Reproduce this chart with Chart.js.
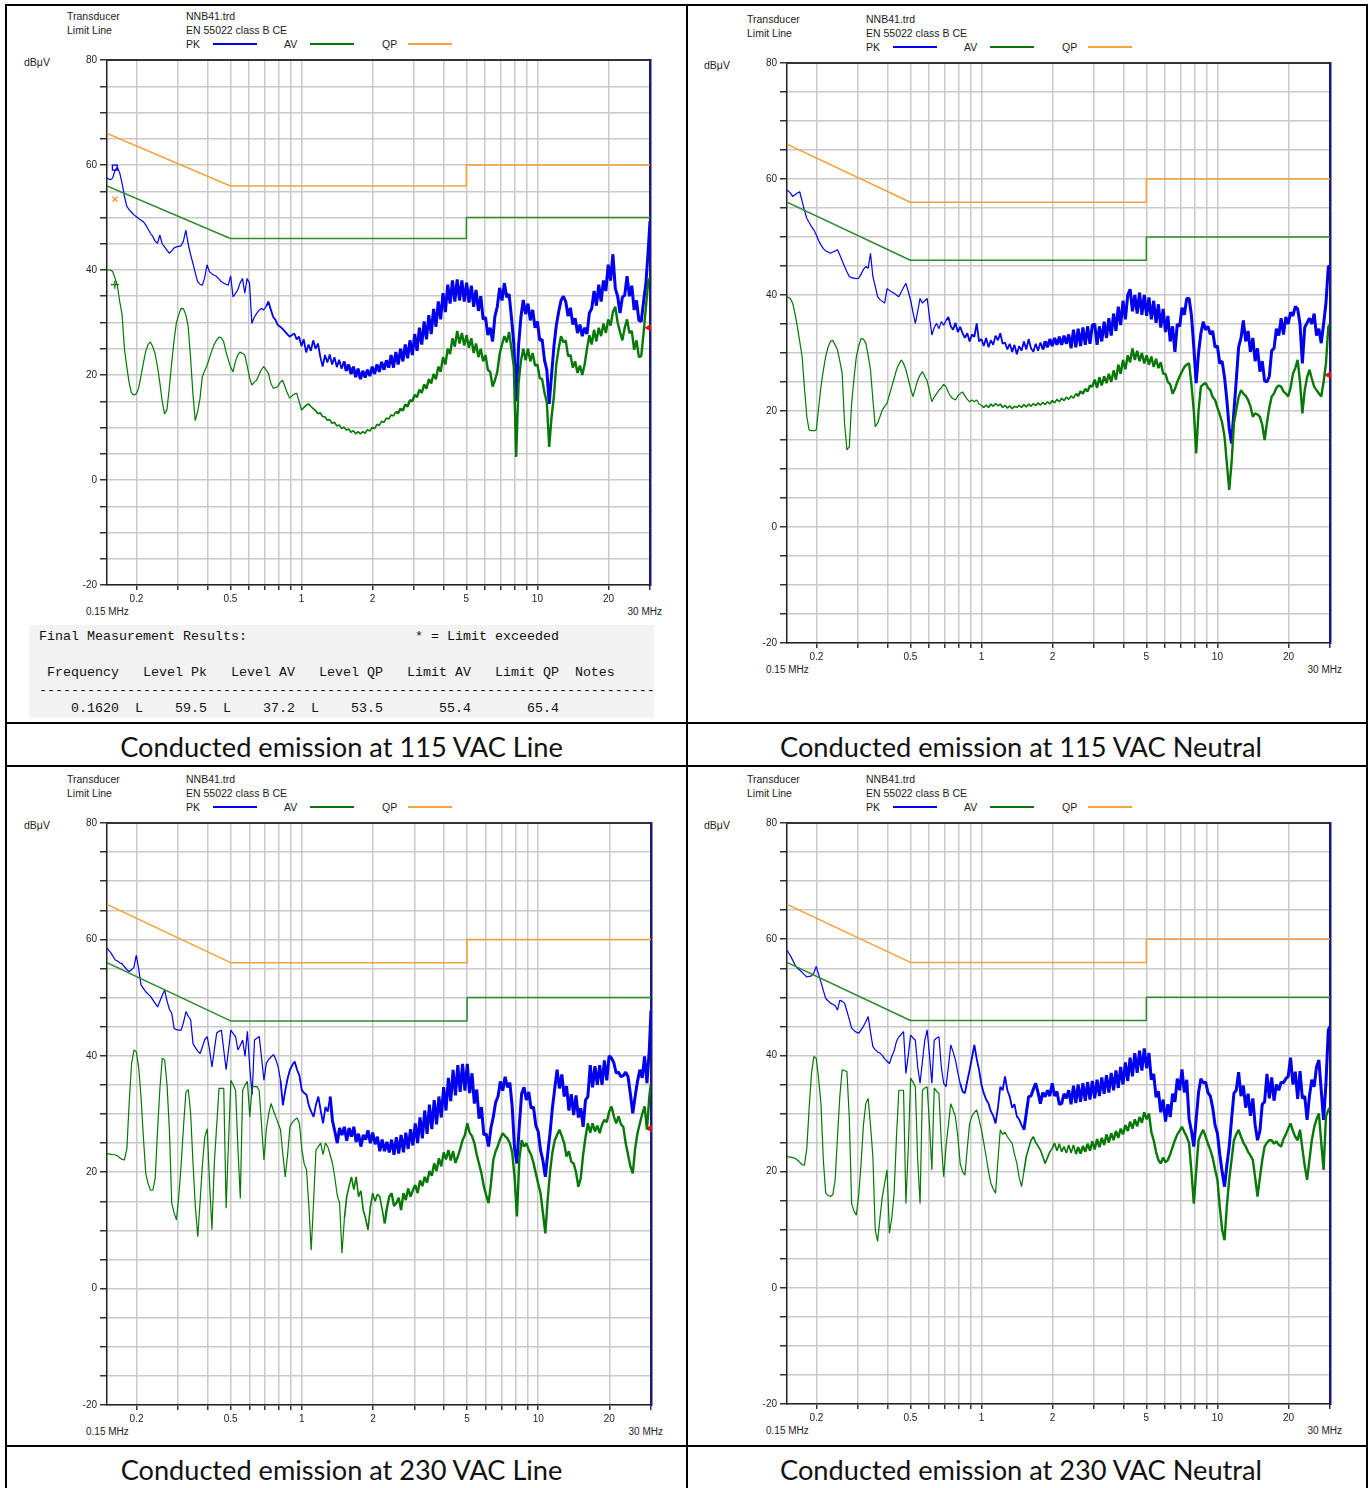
<!DOCTYPE html>
<html>
<head>
<meta charset="utf-8">
<script src="https://cdn.jsdelivr.net/npm/chart.js@4.4.0/dist/chart.umd.min.js"></script>
<style>
  html, body { margin: 0; padding: 0; background: #fff; }
  #page { position: relative; width: 1370px; height: 1488px; overflow: hidden;
          font-family: "Liberation Sans", Arial, sans-serif; color: #222; }
  .ln { position: absolute; background: #000; }
  .t { position: absolute; font-size: 10.5px; line-height: 12px; white-space: nowrap; }
  .lg { position: absolute; height: 2px; }
  canvas { position: absolute; }
  .cap { position: absolute; font-family: Lato, "Open Sans", sans-serif; color: #111;
         white-space: nowrap; line-height: 1; }
  .cap i { display: inline-block; width: 0; height: 0; vertical-align: baseline; }
  #results { position: absolute; left: 29px; top: 625px; width: 625px; height: 93px; background: #f3f3f3; }
  #results pre { margin: 0; position: absolute; left: 10px; top: 3px;
                 font-family: "Liberation Mono", "DejaVu Sans Mono", monospace;
                 font-size: 13.33px; line-height: 18px; color: #111; }
</style>
</head>
<body>
<div id="page">
  <!-- table frame -->
  <div class="ln" style="left:5px;top:4px;width:1363px;height:2px"></div>
  <div class="ln" style="left:5px;top:4px;width:2px;height:1484px"></div>
  <div class="ln" style="left:686px;top:4px;width:2px;height:1484px"></div>
  <div class="ln" style="left:1366px;top:4px;width:2px;height:1484px"></div>
  <div class="ln" style="left:5px;top:722px;width:1363px;height:2px"></div>
  <div class="ln" style="left:5px;top:765px;width:1363px;height:2px"></div>
  <div class="ln" style="left:5px;top:1445px;width:1363px;height:2px"></div>

  <div id="results"><pre>Final Measurement Results:                     * = Limit exceeded

 Frequency   Level Pk   Level AV   Level QP   Limit AV   Limit QP  Notes
-----------------------------------------------------------------------------
    0.1620  L    59.5  L    37.2  L    53.5       55.4       65.4</pre></div>

  <div class="cap" data-cx="341.5" data-w="443" data-base="757">Conducted emission at 115 VAC Line<i></i></div>
  <div class="cap" data-cx="1021" data-w="482" data-base="757">Conducted emission at 115 VAC Neutral<i></i></div>
  <div class="cap" data-cx="341.5" data-w="442" data-base="1480">Conducted emission at 230 VAC Line<i></i></div>
  <div class="cap" data-cx="1021" data-w="482" data-base="1480">Conducted emission at 230 VAC Neutral<i></i></div>
</div>

<script>
// sweep frequencies, MHz
const freqMHz = [
  0.150,0.1549,0.1585,0.1622,0.1660,0.1698,0.1738,0.1778,0.1820,0.1862,
  0.1905,0.1950,0.1995,0.2042,0.2089,0.2138,0.2188,0.2239,0.2291,0.2344,
  0.2399,0.2455,0.2512,0.2570,0.2630,0.2692,0.2754,0.2818,0.2884,0.2951,
  0.3020,0.3090,0.3162,0.3236,0.3311,0.3388,0.3467,0.3548,0.3631,0.3715,
  0.3802,0.3890,0.3981,0.4074,0.4169,0.4266,0.4365,0.4467,0.4571,0.4677,
  0.4786,0.4898,0.5012,0.5129,0.5248,0.5370,0.5495,0.5623,0.5754,0.5888,
  0.6026,0.6166,0.6310,0.6457,0.6607,0.6761,0.6918,0.7079,0.7244,0.7413,
  0.7586,0.7762,0.7943,0.8128,0.8318,0.8511,0.8710,0.8913,0.9120,0.9333,
  0.9550,0.9772,1.000,1.023,1.047,1.072,1.096,1.122,1.148,1.175,
  1.202,1.230,1.259,1.288,1.318,1.349,1.380,1.413,1.445,1.479,
  1.514,1.549,1.585,1.622,1.660,1.698,1.738,1.778,1.820,1.862,
  1.905,1.950,1.995,2.042,2.089,2.138,2.188,2.239,2.291,2.344,
  2.399,2.455,2.512,2.570,2.630,2.692,2.754,2.818,2.884,2.951,
  3.020,3.090,3.162,3.236,3.311,3.388,3.467,3.548,3.631,3.715,
  3.802,3.890,3.981,4.074,4.169,4.266,4.365,4.467,4.571,4.677,
  4.786,4.898,5.012,5.129,5.248,5.370,5.495,5.623,5.754,5.888,
  6.026,6.166,6.310,6.457,6.607,6.761,6.918,7.079,7.244,7.413,
  7.586,7.762,7.943,8.128,8.318,8.511,8.710,8.913,9.120,9.333,
  9.550,9.772,10.00,10.23,10.47,10.72,10.96,11.22,11.48,11.75,
  12.02,12.30,12.59,12.88,13.18,13.49,13.80,14.13,14.45,14.79,
  15.14,15.49,15.85,16.22,16.60,16.98,17.38,17.78,18.20,18.62,
  19.05,19.50,19.95,20.42,20.89,21.38,21.88,22.39,22.91,23.44,
  23.99,24.55,25.12,25.70,26.30,26.92,27.54,28.18,28.84,29.51,
  30.0
];

// EN 55022 class B limit lines
const qpLimitFreq  = [0.15, 0.5, 5, 5, 30];
const qpLimitLevel = [66, 56, 56, 60, 60];
const avLimitFreq  = [0.15, 0.5, 5, 5, 30];
const avLimitLevel = [56, 46, 46, 50, 50];

// 115 VAC Line
const c1Pk = [
  57.5,57.2,57.5,59.0,59.6,58.5,56.5,54.0,52.1,51.5,
  51.0,50.5,50.2,49.8,49.5,49.2,48.6,47.8,47.0,46.4,
  45.5,45.1,46.7,45.0,44.4,43.8,43.2,43.6,44.2,44.4,
  44.5,44.6,45.5,47.6,45.0,43.0,41.3,39.5,37.8,37.3,
  37.1,38.5,41.0,39.7,39.3,39.0,38.8,38.3,37.8,37.5,
  37.3,37.1,38.9,34.9,35.5,36.2,37.5,38.4,35.6,38.4,
  37.5,29.8,31.0,31.7,32.3,32.7,32.4,33.0,34.0,32.5,
  31.1,30.5,29.5,29.2,28.8,28.3,27.8,27.3,27.6,27.9,
  26.8,27.3,25.5,26.8,24.3,25.8,24.6,26.6,25.0,26.0,
  23.5,21.6,23.8,22.4,23.9,22.0,23.4,21.5,22.9,21.2,
  22.6,20.8,22.0,20.2,21.6,19.6,21.2,19.2,20.8,19.5,
  21.0,19.8,21.6,20.2,22.0,20.6,22.5,21.0,22.8,21.4,
  23.8,21.4,24.4,22.0,25.0,22.6,25.8,23.2,26.6,23.8,
  27.8,24.6,29.0,25.8,30.2,26.8,31.4,27.8,32.6,29.2,
  34.0,30.6,35.6,32.0,37.2,33.6,38.0,34.0,38.2,34.2,
  38.0,34.0,37.6,33.8,37.0,33.0,36.2,32.2,35.0,30.6,
  31.0,27.6,29.0,26.4,31.2,33.0,36.6,34.2,37.5,34.8,
  35.4,31.0,26.0,15.0,25.5,31.0,34.3,31.6,33.6,30.4,
  32.4,29.0,30.2,26.6,26.8,22.8,21.0,14.5,20.0,25.5,
  29.4,32.0,34.2,35.0,34.0,31.2,32.8,29.6,30.8,28.0,
  29.6,27.4,29.0,27.8,31.8,32.6,36.0,33.2,37.2,34.0,
  38.0,36.0,41.0,38.0,43.0,36.5,35.0,31.8,34.8,35.2,
  38.8,35.0,37.0,32.4,34.2,30.4,30.2,34.0,37.6,44.0,
  49.3
];
const c1Av = [
  40.0,40.0,39.7,38.5,37.0,34.0,31.5,25.0,21.5,18.5,
  16.6,16.2,16.4,17.5,19.8,22.2,24.5,25.8,26.3,25.4,
  24.0,21.6,18.5,15.0,12.6,13.4,17.5,22.2,26.5,29.9,
  31.5,32.7,32.6,31.5,29.3,23.5,16.5,11.3,13.0,15.5,
  19.7,20.8,21.8,23.2,24.6,25.8,26.6,27.2,27.1,26.4,
  24.5,22.9,21.5,20.6,22.5,23.8,24.4,24.1,23.8,21.8,
  19.5,18.1,18.6,19.0,20.0,21.0,21.6,21.0,20.3,18.5,
  17.5,17.6,17.8,18.6,19.0,17.8,16.6,15.6,16.0,16.4,
  16.5,15.0,13.3,13.8,14.2,14.5,14.0,13.6,13.2,12.6,
  12.8,12.1,12.0,11.4,11.5,10.8,11.0,10.3,10.5,9.8,
  10.1,9.5,9.7,9.1,9.4,8.8,9.2,8.8,9.2,8.9,
  9.6,9.3,10.0,9.8,10.6,10.4,11.2,11.0,11.8,11.6,
  12.4,12.2,13.0,12.7,13.6,13.2,14.4,14.0,15.2,15.0,
  16.2,15.8,17.2,16.6,18.2,17.4,19.2,18.4,20.2,19.2,
  21.6,20.6,23.4,22.0,25.0,24.0,27.0,25.4,28.4,26.0,
  28.0,25.6,27.6,25.2,27.0,24.2,26.0,23.4,25.0,22.6,
  23.8,21.0,20.6,17.8,19.0,20.6,24.0,25.8,27.4,26.2,
  28.2,25.0,21.6,4.4,18.4,22.6,25.0,22.8,25.0,22.6,
  24.2,21.8,22.0,19.4,19.2,16.6,14.8,6.3,12.0,16.0,
  22.0,25.0,27.4,26.2,26.6,23.6,23.8,21.4,22.6,20.4,
  21.8,20.0,22.0,25.0,27.6,25.8,28.6,26.4,29.0,27.4,
  29.8,28.0,30.6,29.4,32.0,33.0,30.0,28.2,26.6,29.0,
  30.6,28.0,28.4,24.8,26.6,23.4,23.6,28.0,33.0,38.0,
  38.5
];

// 115 VAC Neutral
const c2Pk = [
  58.1,57.6,57.0,57.3,57.6,57.8,56.2,54.6,53.2,52.5,
  51.8,51.2,50.4,49.4,48.6,48.0,47.6,47.4,47.2,47.4,
  47.6,47.8,46.9,45.9,44.9,44.0,43.2,43.0,42.9,42.8,
  42.9,43.6,44.4,44.9,44.6,47.2,43.2,41.5,39.7,39.2,
  38.9,38.6,41.1,40.8,40.5,40.3,40.0,39.7,40.5,41.3,
  42.0,40.6,39.1,37.0,35.1,37.2,39.4,38.6,39.0,39.4,
  36.2,33.1,34.4,35.1,34.2,35.4,34.8,35.6,36.2,34.6,
  34.0,35.2,33.6,34.5,33.4,32.6,33.4,32.0,33.2,32.8,
  35.1,32.0,32.4,31.2,32.6,31.0,32.2,31.4,33.0,32.2,
  33.4,31.6,31.8,30.6,31.6,30.2,31.4,29.8,31.2,30.4,
  32.0,30.6,32.4,30.8,30.2,31.6,30.4,31.8,30.6,32.0,
  31.0,32.4,31.2,32.6,31.4,32.8,31.4,33.0,31.6,33.2,
  30.8,34.0,31.0,34.2,31.2,34.4,31.4,34.6,31.6,34.8,
  35.0,31.4,34.6,32.0,35.4,32.6,36.0,33.0,36.8,33.8,
  38.0,34.8,39.0,35.8,40.0,41.0,37.2,40.0,36.8,40.4,
  36.6,40.0,36.4,39.6,35.8,39.0,35.2,38.4,34.4,37.6,
  33.6,36.4,32.0,34.6,30.2,35.0,34.6,37.8,36.6,39.4,
  39.4,36.5,31.0,24.8,30.0,33.4,35.4,34.0,34.6,33.2,
  33.8,31.0,31.2,28.2,28.6,25.8,22.0,17.0,14.4,20.0,
  25.3,31.0,32.6,35.6,32.0,33.8,30.2,32.6,28.6,30.8,
  26.8,28.6,25.2,25.0,26.0,30.4,30.8,34.2,33.0,36.0,
  33.2,36.2,35.0,37.0,36.4,38.0,37.6,35.0,28.2,34.4,
  35.2,36.0,35.0,36.8,33.0,34.2,31.7,35.0,38.6,44.9,
  45.0
];
const c2Av = [
  39.7,39.4,38.6,36.8,34.5,32.0,29.4,24.0,19.0,16.7,
  16.6,16.6,16.7,20.5,24.2,27.0,29.4,31.0,32.0,32.2,
  31.4,30.5,28.6,26.5,17.9,13.3,13.8,21.3,25.6,29.4,
  31.2,32.5,32.4,31.7,29.6,27.1,22.0,17.3,17.9,19.0,
  20.2,20.8,21.3,22.8,24.2,25.6,27.1,28.0,28.8,28.2,
  27.1,25.5,23.8,22.5,23.9,25.3,26.2,26.8,26.0,25.2,
  23.4,21.6,22.4,23.0,23.6,24.0,24.6,24.2,23.2,22.5,
  22.1,21.9,22.6,23.0,23.3,22.6,22.0,21.6,21.9,21.6,
  21.9,21.2,21.0,20.6,21.0,20.6,21.2,20.8,21.3,20.9,
  21.2,20.6,21.0,20.5,20.9,20.4,20.8,20.6,21.0,20.6,
  21.1,20.7,21.2,20.8,21.3,20.9,21.4,21.0,21.5,21.1,
  21.6,21.2,21.8,21.4,22.0,21.6,22.2,21.8,22.4,22.0,
  22.6,22.2,23.0,22.6,23.4,23.0,23.8,23.4,24.4,24.2,
  25.4,24.0,25.8,24.4,26.0,24.8,26.4,25.0,27.0,25.4,
  28.0,26.4,28.8,27.2,29.6,28.4,30.8,28.8,30.4,28.6,
  30.0,28.2,29.6,28.0,29.4,27.6,29.0,27.4,28.4,26.4,
  26.4,25.0,24.6,23.0,23.8,25.0,26.0,26.8,27.6,28.0,
  28.2,24.6,20.0,12.7,20.0,24.2,24.6,24.8,24.0,23.6,
  22.4,21.9,20.6,19.4,18.0,15.6,11.0,6.4,11.0,17.9,
  20.2,22.4,23.6,23.0,22.6,21.9,20.8,19.0,19.6,19.4,
  19.0,17.6,15.0,18.0,20.6,22.5,23.0,24.0,24.4,24.2,
  23.4,23.0,22.5,24.0,26.4,27.4,28.8,25.0,19.6,23.6,
  25.8,27.1,25.6,24.2,23.6,23.0,22.5,25.0,28.2,34.5,
  35.0
];

// 230 VAC Line
const c3Pk = [
  58.5,57.8,57.2,56.5,56.3,56.0,55.8,55.3,54.8,54.5,
  54.8,55.2,57.3,55.0,52.2,51.6,51.0,50.6,50.2,49.6,
  49.0,48.4,49.4,50.4,51.3,49.4,48.0,47.3,44.7,44.5,
  44.4,44.4,45.8,47.6,46.8,46.2,42.1,41.4,40.8,40.4,
  41.6,42.8,43.3,41.0,38.1,41.0,43.9,44.2,44.4,41.0,
  37.6,41.0,44.4,43.8,43.3,41.0,41.8,42.7,39.9,44.2,
  38.0,33.3,42.7,43.0,43.3,39.6,35.8,38.7,39.4,39.8,
  40.2,39.4,38.1,35.8,31.5,34.0,36.1,37.6,38.4,39.0,
  37.6,36.6,34.1,33.6,33.3,31.4,30.4,29.5,31.6,33.0,
  30.6,28.4,31.2,30.4,33.0,28.8,27.0,25.0,27.6,26.4,
  27.8,25.4,27.6,26.1,27.8,25.2,26.6,24.4,26.4,25.6,
  27.2,25.0,26.8,24.8,26.1,23.6,25.6,23.6,25.2,23.4,
  25.6,23.0,26.0,23.2,26.4,23.4,26.8,24.0,27.4,24.6,
  28.4,25.0,29.4,25.8,30.6,26.6,31.6,27.4,32.4,28.2,
  33.0,29.4,34.6,30.6,36.2,32.2,37.6,33.2,38.4,33.8,
  38.6,34.0,38.6,33.6,37.0,31.8,34.2,29.2,31.2,26.4,
  26.6,24.4,27.6,29.5,32.0,33.0,35.6,34.0,36.4,34.6,
  35.4,31.3,24.0,21.5,28.0,33.5,34.6,32.4,33.8,31.0,
  31.2,28.0,27.0,23.8,22.0,19.2,23.0,26.7,31.0,34.4,
  37.6,34.4,36.8,33.0,34.8,30.6,33.4,29.8,33.2,29.4,
  31.0,27.8,32.4,33.0,38.4,34.6,38.2,35.0,38.4,35.0,
  39.2,35.8,40.0,39.6,38.8,37.0,37.2,36.4,36.6,37.2,
  36.4,33.4,30.1,33.0,35.6,37.6,36.2,39.9,35.3,41.0,
  47.8
];
const c3Av = [
  23.2,23.1,23.0,23.0,22.8,22.5,22.2,22.1,24.0,32.0,
  38.6,41.0,40.7,38.0,33.0,26.0,19.8,18.0,16.9,16.9,
  19.0,27.3,34.5,39.6,39.3,35.0,27.3,14.7,13.0,11.8,
  16.0,21.5,28.0,33.8,34.2,30.0,21.5,14.0,8.9,15.0,
  21.5,26.1,27.5,18.0,10.1,21.5,28.0,34.4,34.4,34.4,
  13.8,25.0,35.8,35.0,34.1,24.0,15.5,34.1,35.0,35.6,
  29.5,34.7,34.7,34.7,34.0,28.0,22.1,27.3,30.0,31.8,
  30.6,29.5,28.4,27.3,23.0,19.2,23.0,27.8,28.6,29.0,
  29.3,28.4,24.0,21.5,20.4,14.0,6.6,15.0,23.8,24.4,
  25.0,23.0,25.0,24.4,23.0,21.5,19.0,16.0,14.7,6.1,
  12.0,15.8,17.6,19.2,17.0,19.2,15.8,16.8,13.5,12.0,
  10.1,14.0,16.4,15.0,16.2,15.8,13.6,11.2,13.8,15.8,
  16.4,14.2,14.7,15.6,13.5,16.4,15.2,17.2,15.8,16.9,
  17.8,16.4,18.6,17.6,19.2,18.2,20.2,19.4,21.5,20.2,
  22.4,21.0,23.4,22.2,23.8,22.0,23.6,21.6,22.7,24.0,
  25.5,26.4,28.4,26.8,26.2,25.0,23.0,21.4,19.8,17.6,
  16.0,14.7,18.0,22.1,23.6,24.6,25.8,26.7,26.2,25.8,
  25.0,23.4,19.2,12.4,22.1,25.5,24.4,25.0,23.8,23.0,
  21.6,19.8,18.0,16.4,13.0,9.5,15.2,20.0,23.4,25.5,
  26.4,27.3,26.2,25.0,22.7,23.6,21.8,21.5,20.0,17.5,
  19.0,23.0,26.0,28.4,26.8,28.4,27.0,28.0,26.7,28.2,
  29.0,28.6,30.4,31.3,29.6,28.4,29.6,28.2,27.8,25.0,
  23.0,21.0,19.8,24.0,26.7,28.4,30.0,31.3,27.3,33.0,
  35.3
];

// 230 VAC Neutral
const c4Pk = [
  58.1,57.2,56.4,55.6,55.0,54.7,54.3,53.9,53.5,53.6,
  53.7,54.2,55.3,54.0,52.6,51.2,49.8,49.4,49.0,48.8,
  48.6,47.8,49.5,49.3,49.0,47.6,46.2,44.7,44.3,44.0,
  43.8,44.4,45.0,45.8,46.7,44.0,41.5,41.0,40.6,40.4,
  40.0,39.4,39.0,38.6,39.8,40.8,42.4,43.2,43.6,44.1,
  36.9,40.0,43.5,43.0,42.6,38.0,35.2,39.0,42.6,44.4,
  40.0,35.2,42.6,43.0,43.2,38.0,35.2,34.6,38.0,41.8,
  40.6,39.2,37.0,35.2,33.8,33.5,35.6,37.5,39.6,41.8,
  39.4,37.5,35.0,33.5,32.4,31.7,30.4,29.6,28.3,31.0,
  34.6,34.0,36.4,34.0,32.9,31.0,31.6,29.5,29.0,28.0,
  27.2,30.0,32.9,33.0,34.2,35.2,33.6,31.7,33.6,32.9,
  34.0,33.0,35.2,33.0,33.8,31.6,31.7,33.4,32.6,34.0,
  31.6,34.8,31.8,35.0,32.0,35.2,32.2,35.4,32.4,35.6,
  32.6,35.8,33.0,36.2,33.4,36.6,33.6,37.0,34.0,37.4,
  34.4,38.0,35.0,38.8,35.6,39.6,36.4,40.4,37.0,40.8,
  37.4,41.2,37.8,40.4,35.8,36.8,32.8,33.8,30.2,32.4,
  28.6,31.6,29.4,33.4,32.0,36.0,34.0,37.6,33.6,35.8,
  29.0,27.0,24.3,29.0,33.6,36.0,35.3,35.4,33.6,33.0,
  31.0,28.0,26.6,23.0,20.0,17.4,21.0,24.3,29.0,33.5,
  34.0,37.1,33.0,34.8,31.0,33.4,29.6,32.6,28.0,25.4,
  27.0,31.6,32.0,36.8,32.6,36.2,32.2,35.0,34.0,35.4,
  35.3,36.0,36.4,39.6,35.0,37.2,32.5,37.3,32.6,33.0,
  28.9,33.0,35.8,34.6,38.0,39.2,34.0,28.9,35.2,44.4,
  45.0
];
const c4Av = [
  22.6,22.5,22.4,22.3,22.0,21.6,21.2,21.1,24.0,31.0,
  36.9,39.8,39.5,36.0,31.7,22.0,16.3,15.9,15.7,16.0,
  18.5,26.0,33.0,37.5,37.4,37.2,29.4,14.5,13.2,12.5,
  16.0,21.4,28.0,31.7,32.6,28.0,22.6,10.0,8.0,12.0,
  15.7,18.0,20.3,9.4,12.0,16.3,26.0,34.0,34.0,34.0,
  14.5,24.0,36.1,35.4,34.6,22.0,14.5,34.0,34.4,34.6,
  28.0,20.3,34.4,33.8,33.5,25.0,19.1,24.3,28.0,31.7,
  30.6,29.4,26.0,21.4,20.0,19.4,24.0,28.3,29.6,30.2,
  30.6,29.0,27.2,25.0,22.6,20.0,18.0,17.0,16.3,22.0,
  27.2,26.4,26.8,26.0,25.4,24.9,23.0,21.4,19.0,17.4,
  20.0,22.6,24.0,25.4,26.0,25.0,24.4,23.7,22.6,21.4,
  22.4,23.4,24.0,24.9,23.6,24.8,23.4,24.3,23.2,24.6,
  23.2,24.6,23.0,24.2,23.1,24.4,23.4,24.8,23.6,25.2,
  23.8,25.6,24.2,25.8,24.6,26.4,25.0,26.6,25.4,27.0,
  25.8,27.4,26.4,28.0,27.0,28.6,27.4,29.0,27.8,29.4,
  28.4,30.2,29.0,30.0,26.8,25.4,23.4,22.0,21.4,22.4,
  21.6,22.0,23.0,24.2,25.4,26.4,27.0,27.7,26.8,26.0,
  24.9,20.0,14.5,20.0,25.4,26.4,27.2,26.0,24.8,23.7,
  22.4,20.4,18.6,14.0,10.0,8.2,14.0,18.6,22.0,25.4,
  26.4,27.2,26.0,25.0,24.3,23.4,22.8,22.0,19.0,15.7,
  19.0,22.0,24.3,25.0,25.4,25.4,24.8,25.2,24.6,24.3,
  25.6,26.4,27.4,28.3,27.0,26.0,25.4,27.2,24.0,21.0,
  18.6,22.0,25.4,27.6,29.0,30.0,25.0,20.3,29.5,30.6,
  31.0
];

// final measurement markers (115 VAC Line) and limit-exceeded arrows
const finalFreq = [0.162];
const finalPk = [59.5];
const finalQp = [53.5];
const finalAv = [37.2];
const edgeMarkFreq = [29.6];
const edgeMarkLevel = [29.0, 26.2, 27.5, null];

// axis ticks
const xTickValues = [0.2,0.3,0.4,0.5,0.6,0.7,0.8,0.9,1,2,3,4,5,6,7,8,9,10,20,30];
const xTickLabels = ['0.2','','','0.5','','','','','1','2','','','5','','','','','10','20',''];
const yTickValues = [-20,-15,-10,-5,0,5,10,15,20,25,30,35,40,45,50,55,60,65,70,75,80];
const yTickLabels = ['-20','','','','0','','','','20','','','','40','','','','60','','','','80'];

const C_PK = '#0000ee', C_AV = '#067806', C_QP = '#f2a33a', C_AVL = '#2f8a2f';

// plot rectangles [left, top, right, bottom]; where the traces turn into noisy bands (MHz: [medium, dense])
const panels = [
  { plot: [107, 60, 650, 585],    pk: c1Pk, av: c1Av, edge: edgeMarkLevel[0], finals: true,
    pkNoise: [0.7, 1.5], avNoise: [1.0, 2.5] },
  { plot: [787, 63, 1330, 643],   pk: c2Pk, av: c2Av, edge: edgeMarkLevel[1],
    pkNoise: [0.7, 1.8], avNoise: [1.0, 2.5] },
  { plot: [107, 823, 651, 1405],  pk: c3Pk, av: c3Av, edge: edgeMarkLevel[2],
    pkNoise: [0.8, 1.3], avNoise: [1.5, 2.2] },
  { plot: [787, 823, 1330, 1404], pk: c4Pk, av: c4Av, edge: edgeMarkLevel[3],
    pkNoise: [0.8, 1.5], avNoise: [1.5, 2.5] }
];

const page = document.getElementById('page');

function txt(s, x, cy, opts) {
  const d = document.createElement('div');
  d.className = 't';
  d.textContent = s;
  d.style.top = (cy - 6) + 'px';
  if (opts && opts.right) { d.style.right = (1370 - x) + 'px'; } else { d.style.left = x + 'px'; }
  if (opts && opts.size) d.style.fontSize = opts.size + 'px';
  page.appendChild(d);
}
function legLine(x1, x2, y, color) {
  const d = document.createElement('div');
  d.className = 'lg';
  d.style.left = x1 + 'px';
  d.style.width = (x2 - x1) + 'px';
  d.style.top = (y - 1) + 'px';
  d.style.backgroundColor = color;
  page.appendChild(d);
}
const pts = (xs, ys) => xs.map((x, i) => ({ x: x, y: ys[i] }));

panels.forEach(p => {
  const [L, T, R, B] = p.plot;
  // header block
  txt('Transducer', L - 40, T - 44);
  txt('Limit Line', L - 40, T - 30);
  txt('NNB41.trd', L + 79, T - 44);
  txt('EN 55022 class B CE', L + 79, T - 30);
  txt('PK', L + 79, T - 16);  legLine(L + 106, L + 150, T - 16, C_PK);
  txt('AV', L + 177, T - 16); legLine(L + 203, L + 247, T - 16, C_AV);
  txt('QP', L + 275, T - 16); legLine(L + 301, L + 345, T - 16, C_QP);
  txt('dBμV', L - 83, T + 2);
  txt('0.15 MHz', L - 21, B + 27, { size: 10 });
  txt('30 MHz', R + 12, B + 27, { size: 10, right: true });

  const cv = document.createElement('canvas');
  const W = (R - L) + 47 + 20, H = (B - T) + 10 + 30;
  cv.width = W; cv.height = H;
  cv.style.left = (L - 47) + 'px'; cv.style.top = (T - 10) + 'px';
  page.appendChild(cv);

  // stroke gets heavier where the receiver noise turns the trace into a dense band
  const line = (data, color, widths, noise) => ({
    data, borderColor: color, borderWidth: widths[0], pointRadius: 0, fill: false, tension: 0,
    borderJoinStyle: 'bevel', xAxisID: 'x', yAxisID: 'y',
    segment: noise ? {
      borderWidth: c => {
        const f = c.p0.parsed.x;
        return f >= noise[1] ? widths[2] : (f >= noise[0] ? widths[1] : widths[0]);
      }
    } : undefined
  });
  const datasets = [
    line(pts(qpLimitFreq, qpLimitLevel), C_QP, [1.5]),
    line(pts(avLimitFreq, avLimitLevel), C_AVL, [1.5]),
    line(pts(freqMHz, p.av), C_AV, [1.2, 1.6, 2.4], p.avNoise),
    line(pts(freqMHz, p.pk), C_PK, [1.2, 1.8, 3.0], p.pkNoise)
  ];
  if (p.finals) {
    datasets.push({ data: pts(finalFreq, finalPk), showLine: false, pointStyle: 'rect', pointRadius: 3.5,
                    borderColor: C_PK, backgroundColor: 'rgba(0,0,0,0)', borderWidth: 1.3, xAxisID: 'x', yAxisID: 'y' });
    datasets.push({ data: pts(finalFreq, finalQp), showLine: false, pointStyle: 'crossRot', pointRadius: 3.5,
                    borderColor: '#f08a20', borderWidth: 1.3, xAxisID: 'x', yAxisID: 'y' });
    datasets.push({ data: pts(finalFreq, finalAv), showLine: false, pointStyle: 'cross', pointRadius: 4,
                    borderColor: C_AV, borderWidth: 1.3, xAxisID: 'x', yAxisID: 'y' });
  }
  if (p.edge !== null) {
    datasets.push({ data: pts(edgeMarkFreq, [p.edge]), showLine: false, pointStyle: 'triangle', rotation: -90,
                    pointRadius: 3.5, borderColor: '#e01010', backgroundColor: '#e01010', borderWidth: 1,
                    xAxisID: 'x', yAxisID: 'y', clip: false });
  }

  const grid = { color: '#c9c9c9', lineWidth: 1.5, tickColor: '#333' };
  const tickFont = { family: '"Liberation Sans", Arial, sans-serif', size: 10 };

  new Chart(cv, {
    type: 'line',
    data: { datasets },
    options: {
      responsive: false,
      animation: false,
      devicePixelRatio: 1,
      layout: { padding: { top: 10, right: 20, bottom: 0, left: 0 } },
      plugins: { legend: { display: false }, tooltip: { enabled: false } },
      scales: {
        x: {
          type: 'logarithmic', min: 0.15, max: 30, position: 'bottom',
          afterBuildTicks: s => { s.ticks = xTickValues.map(v => ({ value: v })); },
          afterFit: s => { s.height = 30; },
          grid: Object.assign({}, grid, { tickLength: 5 }),
          border: { color: '#222', width: 1.5 },
          ticks: { autoSkip: false, maxRotation: 0, padding: 3, color: '#222', font: tickFont,
                   callback: (v, i) => xTickLabels[i] }
        },
        y: {
          type: 'linear', min: -20, max: 80, position: 'left',
          afterBuildTicks: s => { s.ticks = yTickValues.map(v => ({ value: v })); },
          afterFit: s => { s.width = 47; },
          grid: Object.assign({}, grid, { tickLength: 7 }),
          border: { color: '#222', width: 1.5 },
          ticks: { autoSkip: false, padding: 3, color: '#222', font: tickFont,
                   callback: (v, i) => yTickLabels[i] }
        },
        xTop: {
          axis: 'x', type: 'logarithmic', min: 0.15, max: 30, position: 'top',
          afterFit: s => { s.height = 0; },
          grid: { display: false }, ticks: { display: false },
          border: { color: '#333', width: 2 }
        },
        yRight: {
          axis: 'y', type: 'linear', min: -20, max: 80, position: 'right',
          afterFit: s => { s.width = 0; },
          grid: { display: false }, ticks: { display: false },
          border: { color: '#1c1c78', width: 2.5 }
        }
      }
    }
  });
});

// fit captions to the reference widths and baselines
document.querySelectorAll('.cap').forEach(el => {
  el.style.fontSize = '100px';
  const w100 = el.getBoundingClientRect().width;
  el.style.fontSize = (100 * (+el.dataset.w) / w100) + 'px';
  const w = el.getBoundingClientRect().width;
  const base = el.querySelector('i').offsetTop;
  el.style.left = (+el.dataset.cx - w / 2) + 'px';
  el.style.top = (+el.dataset.base - base) + 'px';
});
</script>
</body>
</html>
